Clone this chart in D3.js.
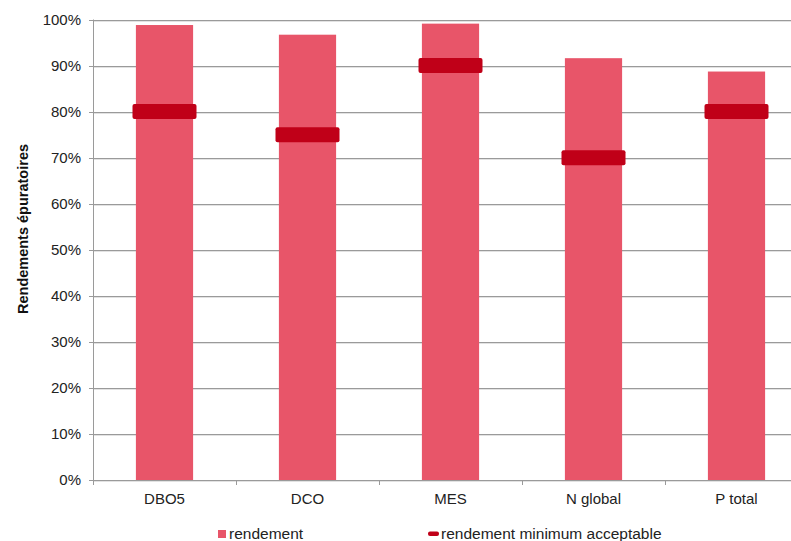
<!DOCTYPE html>
<html><head><meta charset="utf-8">
<script src="https://cdn.jsdelivr.net/npm/d3@7"></script>
<style>body{margin:0;background:#fff}svg{display:block}text{font-family:"Liberation Sans",Arial,sans-serif}</style>
</head><body><svg id="c" width="791" height="541"></svg>
<script>
const categories = ["DBO5","DCO","MES","N global","P total"];
const rendement = [0.988,0.967,0.991,0.916,0.887];
const minimumAcceptable = [0.80,0.75,0.90,0.70,0.80];
const yTicks = [0,0.1,0.2,0.3,0.4,0.5,0.6,0.7,0.8,0.9,1.0];
const seriesNames = ["rendement","rendement minimum acceptable"];

const svg = d3.select("#c");
const L = 93, R = 808, T = 19.5, B = 480;
const x = d3.scaleBand().domain(categories).range([L,R]).paddingInner(0.6).paddingOuter(0.3);
const xOuter = d3.scaleBand().domain(categories).range([L,R]);
const y = d3.scaleLinear().domain([0,1]).range([B,T]);

// gridlines
const grid = svg.append("g");
yTicks.forEach(t=>{
  grid.append("line").attr("x1",L).attr("x2",R).attr("y1",Math.round(y(t))+1.5).attr("y2",Math.round(y(t))+1.5).attr("stroke","#e2e2e2");
  grid.append("line").attr("x1",L-4).attr("x2",R).attr("y1",Math.round(y(t))+0.5).attr("y2",Math.round(y(t))+0.5).attr("stroke","#9a9a9a");
});
// y axis line
svg.append("line").attr("x1",L+0.5).attr("x2",L+0.5).attr("y1",T).attr("y2",B+4).attr("stroke","#9a9a9a");
// x ticks
categories.forEach(c=>{
  const xx = Math.round(xOuter(c))+0.5;
  svg.append("line").attr("x1",xx).attr("x2",xx).attr("y1",B).attr("y2",B+5).attr("stroke","#9a9a9a");
});

// y labels
svg.append("g").selectAll("text").data(yTicks).join("text")
  .attr("x",L-12).attr("y",d=>y(d)+5).attr("text-anchor","end")
  .attr("font-size",15).attr("fill","#222").text(d=>d3.format(".0%")(d));

// bars
svg.append("g").selectAll("rect").data(categories).join("rect")
  .attr("x",c=>x(c)).attr("width",x.bandwidth())
  .attr("y",(c,i)=>y(rendement[i])).attr("height",(c,i)=>B-y(rendement[i]))
  .attr("fill","#E85569");

// markers
svg.append("g").selectAll("rect").data(categories).join("rect")
  .attr("x",c=>x(c)+x.bandwidth()/2-32).attr("width",64)
  .attr("y",(c,i)=>y(minimumAcceptable[i])-7.5).attr("height",15)
  .attr("rx",2).attr("fill","#C00018");

// x labels
svg.append("g").selectAll("text").data(categories).join("text")
  .attr("x",c=>xOuter(c)+xOuter.bandwidth()/2).attr("y",504).attr("text-anchor","middle")
  .attr("font-size",15).attr("fill","#222").text(d=>d);

// y title
svg.append("text").attr("transform","translate(28,229) rotate(-90)").attr("text-anchor","middle")
  .attr("font-size",14.5).attr("font-weight","bold").attr("fill","#111").text("Rendements épuratoires");

// legend
const lg = svg.append("g");
lg.append("rect").attr("x",218).attr("y",530).attr("width",8).attr("height",8).attr("fill","#E85569");
lg.append("text").attr("x",229).attr("y",539).attr("font-size",15.5).attr("fill","#222").text(seriesNames[0]);
lg.append("rect").attr("x",428).attr("y",531.5).attr("width",11).attr("height",4.5).attr("rx",2).attr("fill","#C00018");
lg.append("text").attr("x",441).attr("y",539).attr("font-size",15.5).attr("fill","#222").text(seriesNames[1]);
</script></body></html>
